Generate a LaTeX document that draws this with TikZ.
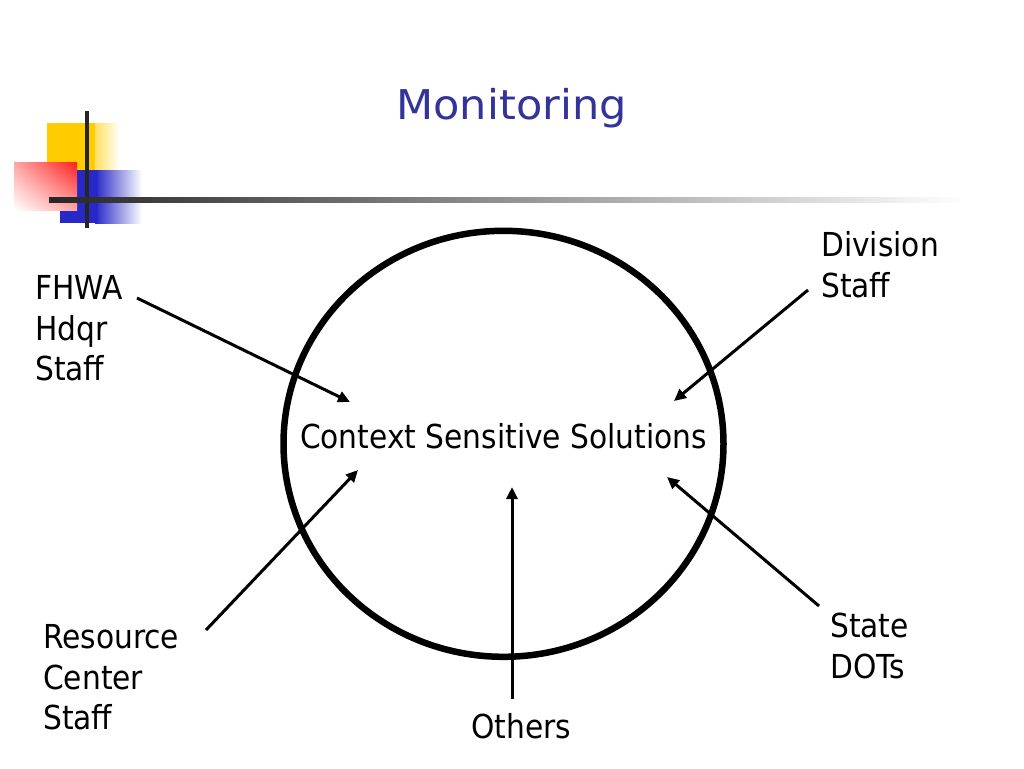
\documentclass[tikz,border=0pt]{standalone}
\usepackage{fontspec}
\setmainfont{DejaVu Sans Condensed}
\newfontfamily\titlefont{DejaVu Sans}
\usetikzlibrary{arrows.meta,shadings}
\definecolor{titleblue}{RGB}{51,51,153}
\definecolor{logoyellow}{RGB}{255,204,0}
\definecolor{logored}{RGB}{255,30,30}
\definecolor{logoblue}{RGB}{40,40,200}
\tikzset{
  lbl/.style={anchor=north west, align=left, font=\fontsize{33}{40.8}\selectfont, inner sep=0pt},
  txt/.style={anchor=base, font=\fontsize{33}{40.8}\selectfont, inner sep=0pt},
  conn/.style={line width=3pt, -{Triangle[length=12pt,width=11pt]}},
}
\begin{document}
\begin{tikzpicture}[x=1pt,y=-1pt]
\useasboundingbox (0,0) rectangle (1024,768);
\fill[white] (0,0) rectangle (1024,768);
% logo
\shade[left color=logoyellow, right color=white, middle color=logoyellow!90] (47,123) rectangle (120,170);
\fill[logoyellow] (47,123) rectangle (95,170);
\shade[left color=logoblue, right color=white] (95,170) rectangle (142,223);
\fill[logoblue] (60,170) rectangle (98,223);
\shade[lower left=white, upper right=logored, upper left=logored!40, lower right=logored!40] (14,162) rectangle (77,210);
\draw[line width=4pt, color=black!85] (87,111) -- (87,228);
\shade[left color=black!85, right color=white] (49,197.5) rectangle (965,202.5);
% title
\node[anchor=base, inner sep=0pt, font=\titlefont\fontsize{41}{48}\selectfont, text=titleblue] (title) at (511.5,119) {\scalebox{1.05}[1]{Monitoring}};
% circle
\draw[line width=6.5pt] (503.5,443.8) ellipse [x radius=220, y radius=213];
\node[txt] (css) at (503.5,448) {Context Sensitive Solutions};
% labels
\node[lbl] (fhwa) at (35,275) {FHWA\\Hdqr\\Staff};
\node[lbl] (div) at (821,231) {Division\\Staff};
\node[lbl] (res) at (43,624) {Resource\\Center\\Staff};
\node[lbl] (dots) at (830,612.5) {State\\DOTs};
\node[txt] (oth) at (521.5,738) {Others};
% connectors
\coordinate (a1s) at (137,298); \coordinate (a1e) at (350,402);
\coordinate (a2s) at (808,290); \coordinate (a2e) at (674,401);
\coordinate (a3s) at (206,630); \coordinate (a3e) at (358,470);
\coordinate (a4s) at (512,699); \coordinate (a4e) at (512,487);
\coordinate (a5s) at (819,606); \coordinate (a5e) at (667,477);
\draw[conn] (a1s) -- (a1e);
\draw[conn] (a2s) -- (a2e);
\draw[conn] (a3s) -- (a3e);
\draw[conn] (a4s) -- (a4e);
\draw[conn] (a5s) -- (a5e);
\end{tikzpicture}
\end{document}
